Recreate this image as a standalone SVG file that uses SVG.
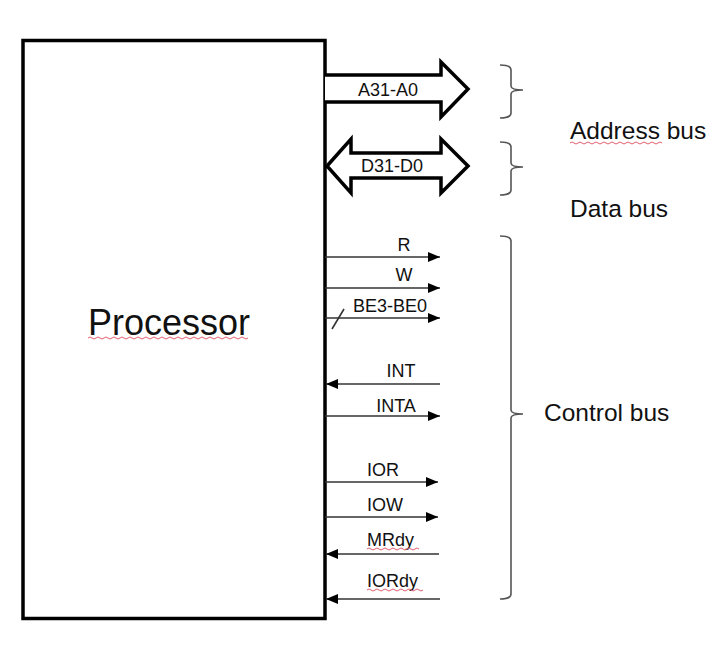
<svg xmlns="http://www.w3.org/2000/svg" width="728" height="660" viewBox="0 0 728 660">
<style>
.t{font-family:"Liberation Sans",Arial,sans-serif;fill:#111}
.s{font-size:18px}
.big{font-size:24.5px}
.sig{stroke:#333;stroke-width:1.6;fill:none}
.brace{stroke:#555;stroke-width:1.6;fill:none}
.bus{stroke:#000;stroke-width:3.5;fill:#fff;stroke-linejoin:miter}
.sq{stroke:#e06070;stroke-width:1;fill:none}
</style>
<defs>
<marker id="ah" viewBox="0 0 12 10" refX="12" refY="5" markerWidth="12" markerHeight="10" markerUnits="userSpaceOnUse" orient="auto">
<path d="M0,0 L12,5 L0,10 Z" fill="#000"/>
</marker>
</defs>
<rect width="728" height="660" fill="#fff"/>
<g id="processor">
<rect x="23" y="40.5" width="302" height="578" fill="#fff" stroke="#000" stroke-width="3.5"/>
<text class="t" x="88" y="335" font-size="36">Processor</text>
<path class="sq" d="M88,338 q2,-2 4,0 t4,0 t4,0 t4,0 t4,0 t4,0 t4,0 t4,0 t4,0 t4,0 t4,0 t4,0 t4,0 t4,0 t4,0 t4,0 t4,0 t4,0 t4,0 t4,0 t4,0 t4,0 t4,0 t4,0 t4,0 t4,0 t4,0 t4,0 t4,0 t4,0 t4,0 t4,0 t4,0 t4,0 t4,0 t4,0 t4,0 t4,0 t4,0 t4,0"/>
</g>
<g id="address-bus">
<path class="bus" d="M325,75 H441 V62 L468,89 L441,117 V102 H325"/>
<text class="t s" x="388" y="96" text-anchor="middle">A31-A0</text>
<path class="brace" d="M500,65 Q511,65 511,70 V86 Q511,90 523,90 Q511,90 511,94 V113 Q511,118 500,118"/>
<text class="t big" x="570" y="139">Address bus</text>
<path class="sq" d="M570,143 q2,-2 4,0 t4,0 t4,0 t4,0 t4,0 t4,0 t4,0 t4,0 t4,0 t4,0 t4,0 t4,0 t4,0 t4,0 t4,0 t4,0 t4,0 t4,0 t4,0 t4,0 t4,0 t4,0 t4,0"/>
</g>
<g id="data-bus">
<path class="bus" d="M327,166 L351,139 V153 H441 V139 L468,166 L441,193 V178 H351 V193 Z"/>
<text class="t s" x="392" y="172" text-anchor="middle">D31-D0</text>
<path class="brace" d="M500,142 Q511,142 511,147 V163 Q511,167 523,167 Q511,167 511,171 V190 Q511,195 500,195"/>
<text class="t big" x="570" y="217">Data bus</text>
</g>
<g id="control-bus">
<path class="brace" d="M500,236 Q511,236 511,241 V410 Q511,414 523,414 Q511,414 511,418 V594 Q511,599 500,599"/>
<text class="t big" x="544" y="421">Control bus</text>
</g>
<g id="connectors">
<line class="sig" x1="325" y1="257" x2="440" y2="257" marker-end="url(#ah)"/>
<line class="sig" x1="325" y1="288" x2="440" y2="288" marker-end="url(#ah)"/>
<line class="sig" x1="325" y1="318" x2="440" y2="318" marker-end="url(#ah)"/>
<line class="sig" x1="332" y1="329" x2="344" y2="309"/>
<line class="sig" x1="440" y1="384" x2="326" y2="384" marker-end="url(#ah)"/>
<line class="sig" x1="325" y1="416" x2="440" y2="416" marker-end="url(#ah)"/>
<line class="sig" x1="325" y1="482" x2="438" y2="482" marker-end="url(#ah)"/>
<line class="sig" x1="325" y1="517" x2="438" y2="517" marker-end="url(#ah)"/>
<line class="sig" x1="439" y1="554" x2="326" y2="554" marker-end="url(#ah)"/>
<line class="sig" x1="440" y1="599" x2="326" y2="599" marker-end="url(#ah)"/>
</g>
<g id="labels">
<text class="t s" x="404" y="251" text-anchor="middle">R</text>
<text class="t s" x="404" y="281" text-anchor="middle">W</text>
<text class="t s" x="390" y="312" text-anchor="middle">BE3-BE0</text>
<text class="t s" x="401" y="377" text-anchor="middle">INT</text>
<text class="t s" x="396" y="412" text-anchor="middle">INTA</text>
<text class="t s" x="367" y="476">IOR</text>
<text class="t s" x="367" y="511">IOW</text>
<text class="t s" x="367" y="546">MRdy</text>
<path class="sq" d="M367,549 q2,-2 4,0 t4,0 t4,0 t4,0 t4,0 t4,0 t4,0 t4,0 t4,0 t4,0 t4,0 t4,0 t4,0"/>
<text class="t s" x="367" y="587">IORdy</text>
<path class="sq" d="M367,590 q2,-2 4,0 t4,0 t4,0 t4,0 t4,0 t4,0 t4,0 t4,0 t4,0 t4,0 t4,0 t4,0 t4,0 t4,0"/>
</g>
</svg>
